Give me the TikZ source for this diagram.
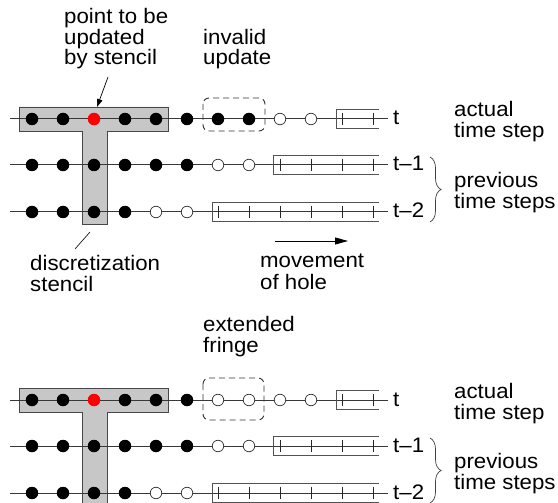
\documentclass[tikz,border=0pt]{standalone}
\usepackage{fontspec}
\setmainfont{Liberation Sans}[FakeStretch=1.06]
\usetikzlibrary{arrows.meta,decorations.pathreplacing}

\tikzset{
  rowline/.style={draw=black!78, line width=1pt},
  solidpt/.style={circle, fill=black, inner sep=0pt, minimum size=12.5pt},
  hollowpt/.style={circle, draw=black!80, fill=white, line width=0.7pt, inner sep=0pt, minimum size=11.5pt},
  redpt/.style={circle, fill=red, inner sep=0pt, minimum size=12.5pt},
  bufline/.style={draw=black!68, line width=0.9pt},
  tickline/.style={draw=black!85, line width=0.8pt},
  stencilshape/.style={draw=black!72, fill=black!22, line width=0.9pt},
  lbl/.style={font=\fontsize{21}{21}\selectfont, inner sep=0pt, anchor=base west},
  fringebox/.style={draw=black!80, dash pattern=on 6pt off 4pt, rounded corners=6pt, line width=0.9pt},
  bracestyle/.style={draw=black!75, line width=0.7pt, decorate,
    decoration={brace, amplitude=11pt, aspect=0.5}},
  pointer/.style={draw=black, line width=0.7pt, -{Triangle[length=8pt,width=5.5pt]}},
  moveline/.style={draw=black, line width=0.9pt, -{Triangle[length=13pt,width=7pt]}},
  thinline/.style={draw=black, line width=0.6pt},
}

\begin{document}
\begin{tikzpicture}[x=1pt,y=-1pt]
\useasboundingbox (0,0) rectangle (558,503);
\fill[white] (0,0) rectangle (558,503);

% two copies of the three time levels: U (upper) and L (lower)
\foreach \half/\off/\stem/\nft in {U/0/224/7, L/281/222/5} {
  \begin{scope}[shift={(0,\off)}, name prefix=\half-]
    % T-shaped discretization stencil
    \draw[stencilshape] (19,107) -- (168,107) -- (168,131) -- (107,131)
      -- (107,\stem) -- (82,\stem) -- (82,131) -- (19,131) -- cycle;

    \foreach \r/\y/\last/\nf/\bx/\lab in
        {0/119/9/\nft/336/t, 1/165/7/5/273/t--1, 2/212/5/3/212/t--2} {
      % time level line
      \coordinate (r\r-a) at (10,\y);
      \coordinate (r\r-b) at (388,\y);
      \draw[rowline] (r\r-a) -- (r\r-b);
      % buffer of not yet computed values
      \draw[bufline] (379,\y-9.5) -- (\bx,\y-9.5) -- (\bx,\y+9.5) -- (379,\y+9.5);
      \pgfmathtruncatemacro{\kfirst}{\last+1}
      \foreach \k in {\kfirst,...,11}
        \draw[tickline] ({32+31*\k},\y-6) -- ({32+31*\k},\y+6);
      % grid points
      \foreach \k in {0,...,\last} {
        \ifnum\k>\nf \def\st{hollowpt}\else\def\st{solidpt}\fi
        \ifnum\r=0 \ifnum\k=2 \def\st{redpt}\fi\fi
        \node[\st] (p\r-\k) at ({32+31*\k},\y) {};
      }
      \node[lbl] (lab\r) at (393,\y+6) {\lab};
    }

    % brace over the previous time levels
    \coordinate (br-a) at (430,157);
    \coordinate (br-b) at (430,222);
    \draw[bracestyle] (br-a) -- (br-b);

    \node[lbl] (act1) at (454,117) {actual};
    \node[lbl] (act2) at (454,138) {time step};
    \node[lbl] (prev1) at (454,187) {previous};
    \node[lbl] (prev2) at (454,208) {time steps};
  \end{scope}
}

% upper picture: labels and markers
\node[lbl] (ptA) at (64,24) {point to be};
\node[lbl] (ptB) at (64,45) {updated};
\node[lbl] (ptC) at (64,65) {by stencil};
\coordinate (ptArrowStart) at (108,77);
\coordinate (ptArrowEnd) at (97,107);
\draw[pointer] (ptArrowStart) -- (ptArrowEnd);

\node[lbl] (invA) at (203,45) {invalid};
\node[lbl] (invB) at (203,65) {update};
\draw[fringebox] (203,98) rectangle (265,131);

\node[lbl] (discA) at (30,270) {discretization};
\node[lbl] (discB) at (30,291) {stencil};
\coordinate (stTop) at (90,232);
\coordinate (stBot) at (75,249);
\draw[thinline] (stTop) -- (stBot);

\coordinate (mvA) at (275,241);
\coordinate (mvB) at (348,241);
\draw[moveline] (mvA) -- (mvB);
\node[lbl] (mvT1) at (260,268) {movement};
\node[lbl] (mvT2) at (260,289) {of hole};

% lower picture: extended fringe
\node[lbl] (extA) at (203,331) {extended};
\node[lbl] (extB) at (203,352) {fringe};
\draw[fringebox] (203,378) rectangle (264,420);
\end{tikzpicture}
\end{document}
